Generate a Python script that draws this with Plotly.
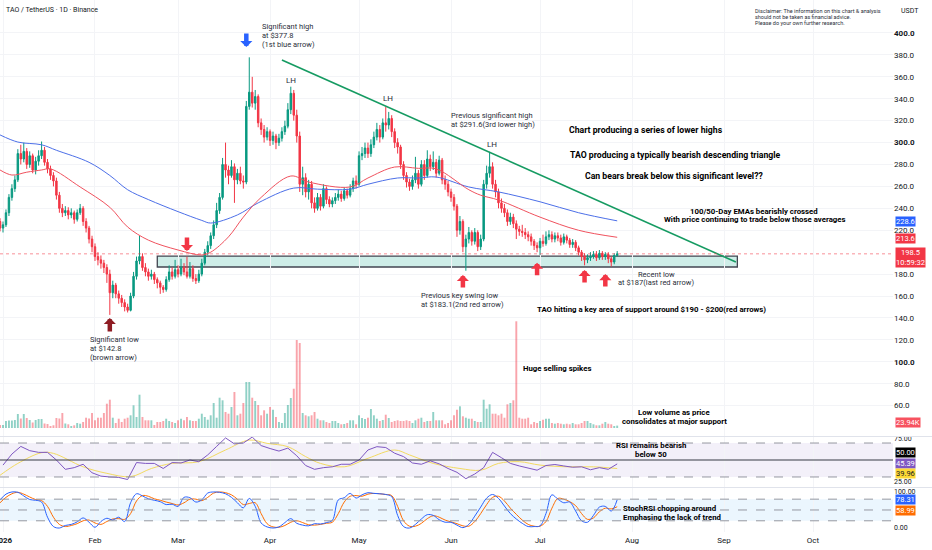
import pandas as pd
import plotly.graph_objects as go

# daily candles 31 Dec 2025 -> 27 Jul 2026 (open = previous close)
first_open = 228
close = [222, 225, 236, 250, 258, 266, 290,
         285, 292, 280, 288, 275, 283, 288,
         293, 282, 276, 270, 265, 252, 240,
         236, 238, 234, 236, 230, 236, 240,
         228, 222, 212, 205, 196, 193, 190,
         186, 180, 163, 170, 162, 158, 154,
         150, 147, 160, 178, 192, 196, 186,
         182, 178, 180, 175, 172, 168, 166,
         175, 182, 178, 184, 180, 186, 182,
         178, 185, 176, 174, 180, 190, 200,
         206, 215, 225, 238, 250, 280, 275,
         270, 278, 266, 272, 265, 264, 333,
         346, 336, 342, 318, 312, 305, 310,
         302, 306, 300, 304, 310, 315, 330,
         345, 325, 306, 262, 268, 255, 262,
         245, 240, 250, 242, 258, 248, 244,
         247, 250, 253, 249, 256, 252, 258,
         265, 262, 288, 290, 295, 290, 298,
         305, 312, 305, 318, 316, 322, 310,
         300, 296, 280, 270, 264, 260, 266,
         272, 262, 280, 270, 285, 278, 282,
         272, 284, 266, 262, 255, 250, 242,
         220, 228, 205, 212, 218, 210, 218,
         205, 212, 262, 272, 278, 262, 255,
         245, 240, 236, 228, 232, 226, 221,
         219, 218, 216, 214, 210, 206, 204,
         210, 208, 214, 216, 212, 215, 213,
         209, 214, 211, 207, 209, 204, 200,
         196, 193, 195, 196, 198, 195, 199,
         196, 198, 194, 191, 197, 198.5]
high = [231, 228, 239, 253, 262, 270, 294,
        298, 300, 295, 292, 290, 287, 293,
        301, 296, 285, 279, 273, 268, 255,
        244, 242, 241, 240, 238, 239, 244,
        242, 231, 224, 215, 208, 200, 197,
        193, 189, 184, 174, 172, 165, 161,
        157, 153, 163, 182, 196, 215, 199,
        190, 185, 184, 182, 177, 174, 170,
        178, 188, 186, 193, 188, 194, 190,
        196, 191, 188, 180, 184, 194, 203,
        210, 218, 229, 245, 254, 286, 300,
        279, 284, 281, 276, 278, 270, 338,
        377.8, 360, 348, 344, 322, 316, 314,
        312, 310, 308, 308, 314, 320, 336,
        351, 348, 330, 310, 278, 272, 266,
        265, 250, 254, 253, 262, 260, 251,
        250, 254, 257, 256, 259, 258, 262,
        268, 270, 292, 296, 300, 300, 303,
        310, 318, 316, 322, 332.5, 328, 325,
        313, 304, 298, 283, 273, 267, 270,
        287, 275, 284, 284, 293, 289, 292,
        285, 288, 286, 270, 265, 258, 253,
        244, 233, 230, 216, 223, 220, 222,
        220, 216, 266, 279, 291.6, 282, 266,
        258, 249, 244, 239, 236, 235, 229,
        224, 225, 222, 219, 217, 212, 209,
        213, 216, 219, 220, 219, 218, 218,
        216, 217, 216, 213, 212, 211, 206,
        202, 199, 198, 200, 201, 201, 202,
        201, 200, 200, 196, 199, 201]
low = [219, 218, 223, 233, 247, 255, 264,
       280, 282, 276, 277, 272, 271, 279,
       285, 279, 272, 266, 260, 248, 236,
       232, 233, 230, 231, 226, 228, 234,
       224, 218, 208, 200, 192, 188, 185,
       181, 172, 142.8, 158, 158, 153, 150,
       146, 145, 146, 158, 175, 189, 183,
       178, 174, 175, 171, 167, 162, 163,
       164, 173, 175, 176, 177, 178, 179,
       176, 176, 173, 171, 172, 178, 188,
       197, 203, 212, 222, 235, 248, 268,
       262, 268, 245, 262, 262, 258, 262,
       330, 332, 330, 314, 307, 300, 302,
       297, 298, 294, 297, 301, 307, 313,
       326, 320, 300, 255, 252, 250, 248,
       240, 236, 238, 238, 240, 244, 241,
       241, 244, 247, 246, 247, 249, 250,
       255, 258, 260, 284, 286, 286, 287,
       295, 302, 300, 303, 310, 312, 305,
       295, 290, 276, 266, 259, 256, 257,
       263, 258, 260, 266, 268, 274, 275,
       268, 270, 262, 257, 251, 246, 238,
       214, 216, 200, 183.1, 208, 206, 207,
       201, 202, 210, 258, 268, 258, 250,
       240, 236, 232, 224, 225, 222, 212,
       215, 214, 212, 210, 206, 202, 200,
       197.5, 205, 206, 211, 209, 209, 210,
       206, 207, 208, 204, 204, 201, 197,
       192, 188, 190, 192, 194, 192, 193,
       193, 193, 190, 187, 189, 196]
volume_k = [30, 30, 70, 75, 75, 80, 140, 95, 140, 100,
            80, 55, 80, 90, 90, 45, 40, 20, 27, 100,
            95, 150, 45, 37, 20, 27, 50, 43, 60, 103,
            95, 150, 77, 103, 103, 150, 243, 283, 103, 50,
            93, 60, 93, 103, 127, 227, 110, 333, 110, 77,
            77, 77, 30, 60, 60, 70, 93, 70, 60, 50,
            77, 93, 77, 110, 77, 70, 70, 93, 143, 110,
            83, 127, 250, 103, 303, 277, 160, 143, 210, 360,
            127, 143, 250, 460, 460, 303, 270, 230, 127, 177,
            143, 210, 183, 110, 60, 50, 150, 230, 300, 393,
            880, 850, 150, 127, 117, 127, 160, 93, 77, 77,
            60, 50, 70, 70, 50, 37, 40, 50, 77, 77,
            37, 127, 100, 90, 103, 190, 127, 93, 70, 80,
            133, 100, 60, 70, 77, 70, 70, 77, 70, 50,
            77, 93, 103, 60, 70, 70, 160, 77, 77, 77,
            37, 50, 77, 127, 183, 217, 117, 103, 93, 93,
            70, 60, 60, 283, 193, 237, 143, 143, 127, 143,
            103, 237, 250, 277, 1067, 103, 93, 93, 103, 37,
            60, 50, 70, 83, 93, 93, 50, 43, 50, 43,
            37, 43, 37, 50, 37, 37, 50, 70, 70, 50,
            37, 27, 27, 43, 60, 43, 37, 20, 23.94]

# moving averages
ema100_dates = ["2025-12-31", "2026-01-06", "2026-01-14", "2026-01-19", "2026-01-30",
                "2026-02-06", "2026-02-12", "2026-02-19", "2026-03-01", "2026-03-09",
                "2026-03-12", "2026-03-21", "2026-03-28", "2026-04-09", "2026-04-17",
                "2026-04-28", "2026-05-04", "2026-05-14", "2026-05-21", "2026-05-27",
                "2026-06-07", "2026-06-17", "2026-07-01", "2026-07-14", "2026-07-27"]
ema100 = [307, 300.5, 298, 293, 282, 270, 257, 248, 237, 229, 226.6, 234, 245,
          258.5, 257.5, 257.5, 262, 267.7, 267.7, 268.6, 259.5, 255, 246, 236, 228.6]
ema50_dates = ["2025-12-31", "2026-01-04", "2026-01-09", "2026-01-14", "2026-01-17",
               "2026-01-27", "2026-02-06", "2026-02-12", "2026-02-19", "2026-03-01",
               "2026-03-09", "2026-03-12", "2026-03-18", "2026-03-23", "2026-03-29",
               "2026-04-08", "2026-04-14", "2026-04-28", "2026-05-04", "2026-05-13",
               "2026-05-21", "2026-05-27", "2026-06-07", "2026-06-11", "2026-06-17",
               "2026-07-01", "2026-07-14", "2026-07-27"]
ema50 = [275, 270.4, 273, 275, 276, 259.5, 241, 223, 211, 202, 197.5, 200, 214, 232,
         250, 269.5, 264, 259.5, 267.7, 277.7, 276.5, 276, 257, 252, 247.6, 232, 220, 213.6]

# RSI (every 3 days from 1 Jan) and its MA
rsi = [44, 57, 66, 61, 59, 59, 50, 39, 41, 45,
       35, 31, 30, 29.5, 27, 47, 46, 46, 40, 47,
       46.5, 50, 48, 56, 66, 76, 69, 70, 77, 67,
       63.5, 60.5, 64, 55, 43.5, 39, 41, 42, 45, 45,
       50, 61.8, 65.7, 64.7, 58, 54, 46.5, 45, 49, 45.5,
       40, 35.5, 28, 33.5, 41, 59, 52.7, 46, 43, 40.5,
       38, 43.5, 44.7, 43, 41.5, 42, 38.5, 41, 39, 45.39]
rsi_ma_dates = ["2025-12-31", "2026-01-06", "2026-01-14", "2026-01-18", "2026-01-28",
                "2026-02-05", "2026-02-13", "2026-02-20", "2026-02-27", "2026-03-08",
                "2026-03-17", "2026-03-25", "2026-03-31", "2026-04-07", "2026-04-13",
                "2026-04-18", "2026-04-26", "2026-05-04", "2026-05-13", "2026-05-18",
                "2026-05-26", "2026-06-04", "2026-06-11", "2026-06-17", "2026-06-24",
                "2026-07-01", "2026-07-10", "2026-07-19", "2026-07-27"]
rsi_ma = [32, 46, 58.6, 57.8, 42, 34.3, 30.4, 40, 46, 48, 61.8, 73.5, 69.6, 65.7, 54,
          46, 42, 52, 61.8, 56, 46, 40, 38, 46, 48, 44, 42, 42, 39.96]

# Stoch RSI (every 2 days from 31 Dec)
stoch_k = [78, 94, 100, 99, 89, 79, 77, 72, 30, 4,
           0, 7, 10, 17, 28, 16, 2, 18, 27, 22,
           30, 18, 70, 95, 89, 81, 77, 73, 65, 66,
           60, 85, 84, 72, 78, 97, 100, 99, 95, 85,
           70, 56, 82, 60, 14, 3, 0, 3, 15, 26,
           13, 8, 6, 12, 11, 15, 21, 78, 84, 96,
           83, 92, 98, 96, 95, 93, 87, 35, 4, 0,
           10, 25, 37, 35, 23, 16, 16, 8, 1, 10,
           33, 58, 83, 93, 82, 61, 40, 25, 13, 4,
           4, 6, 40, 92, 80, 70, 72, 47, 20, 16,
           35, 58, 60, 47, 78.31]
stoch_d = [70, 85, 95, 99, 94, 86, 79, 76, 60, 30,
           10, 4, 7, 12, 20, 22, 14, 10, 18, 25,
           26, 24, 40, 75, 90, 88, 81, 77, 72, 68,
           64, 70, 80, 80, 76, 85, 97, 100, 98, 92,
           80, 65, 68, 70, 40, 12, 3, 2, 7, 16,
           20, 15, 9, 8, 10, 13, 16, 40, 72, 88,
           90, 88, 94, 96, 95, 93, 90, 60, 20, 5,
           5, 13, 26, 34, 30, 22, 17, 12, 6, 5,
           18, 40, 65, 85, 88, 75, 55, 38, 22, 10,
           5, 5, 18, 55, 82, 80, 73, 62, 40, 24,
           28, 45, 55, 53, 58.99]

# drawings
trend_dates = ["2026-04-05", "2026-09-05"]
trend_prices = [375.4, 191]
zone_dates = ["2026-02-22", "2026-09-05 12:00"]
zone_prices = [186.5, 196.5]
red_up_dates = ["2026-06-05", "2026-06-30", "2026-07-16", "2026-07-23"]
red_up_prices = [179.2, 190.4, 183.8, 180]
red_down = ("2026-03-04", 201)
blue_down = ("2026-03-24", 387.2)
brown_up = ("2026-02-06", 140)

month_ticks = ["2026-01-01", "2026-02-01", "2026-03-01", "2026-04-01", "2026-05-01",
               "2026-06-01", "2026-07-01", "2026-08-01", "2026-09-01", "2026-10-01"]
month_labels = ["<b>2026</b>", "Feb", "Mar", "Apr", "May", "Jun", "Jul", "Aug", "Sep", "Oct"]
price_ticks = [v for v in range(60, 401, 20) if v != 200]

UP = "#089981"
DOWN = "#F23645"
TXT = "#131722"
FONT = "Roboto"
PW, PH = 893, 532


def px(x):
    return x / PW


def py(y):
    return 1 - y / PH


dates = pd.date_range("2025-12-31", periods=len(close), freq="D")
open_ = [first_open] + close[:-1]
vol_colors = ["rgba(8,153,129,0.45)" if c >= o else "rgba(242,54,69,0.45)"
              for o, c in zip(open_, close)]
rsi_dates = pd.date_range("2026-01-01", periods=len(rsi), freq="3D")
stoch_dates = pd.date_range("2025-12-31", periods=len(stoch_k), freq="2D")

fig = go.Figure()
fig.add_trace(go.Bar(x=dates, y=volume_k, marker_color=vol_colors, marker_line_width=0,
                     yaxis="y2"))
fig.add_trace(go.Scatter(x=ema100_dates, y=ema100, mode="lines",
                         line=dict(color="#4C6FE8", width=1, shape="spline")))
fig.add_trace(go.Scatter(x=ema50_dates, y=ema50, mode="lines",
                         line=dict(color="#F0525E", width=1, shape="spline")))
fig.add_trace(go.Candlestick(x=dates, open=open_, high=high, low=low, close=close,
                             increasing=dict(line=dict(color=UP, width=1), fillcolor=UP),
                             decreasing=dict(line=dict(color=DOWN, width=1), fillcolor=DOWN),
                             whiskerwidth=0))
fig.add_trace(go.Scatter(x=rsi_ma_dates, y=rsi_ma, mode="lines", yaxis="y3",
                         line=dict(color="#F2DA62", width=1, shape="spline")))
fig.add_trace(go.Scatter(x=rsi_dates, y=rsi, mode="lines", yaxis="y3",
                         line=dict(color="#7E57C2", width=1)))
fig.add_trace(go.Scatter(x=stoch_dates, y=stoch_d, mode="lines", yaxis="y4",
                         line=dict(color="#FF6D00", width=1, shape="spline")))
fig.add_trace(go.Scatter(x=stoch_dates, y=stoch_k, mode="lines", yaxis="y4",
                         line=dict(color="#2962FF", width=1, shape="spline")))

shapes = []
# support zone and descending trendline
shapes.append(dict(type="rect", xref="x", yref="y", x0=zone_dates[0], x1=zone_dates[1],
                   y0=zone_prices[0], y1=zone_prices[1], layer="below",
                   fillcolor="rgba(34,171,148,0.22)", line=dict(color="#434651", width=1.3)))
shapes.append(dict(type="line", xref="x", yref="y", x0=trend_dates[0], x1=trend_dates[1],
                   y0=trend_prices[0], y1=trend_prices[1],
                   line=dict(color="#169B62", width=1.6)))
# last price line
shapes.append(dict(type="line", xref="paper", yref="y", x0=0, x1=1, y0=close[-1], y1=close[-1],
                   line=dict(color="rgba(242,54,69,0.55)", width=1, dash="dot")))
# RSI bands
shapes.append(dict(type="rect", xref="paper", yref="y3", x0=0, x1=1, y0=30, y1=70, layer="below",
                   fillcolor="rgba(126,87,194,0.09)", line=dict(width=0)))
for lvl in [70, 30]:
    shapes.append(dict(type="line", xref="paper", yref="y3", x0=0, x1=1, y0=lvl, y1=lvl,
                       line=dict(color="#9598A1", width=1, dash="dash")))
shapes.append(dict(type="line", xref="paper", yref="y3", x0=0, x1=1, y0=50, y1=50,
                   line=dict(color="#363A45", width=1)))
# Stoch bands
shapes.append(dict(type="rect", xref="paper", yref="y4", x0=0, x1=1, y0=20, y1=80, layer="below",
                   fillcolor="rgba(33,150,243,0.09)", line=dict(width=0)))
for lvl in [80, 50, 20]:
    shapes.append(dict(type="line", xref="paper", yref="y4", x0=0, x1=1, y0=lvl, y1=lvl,
                       line=dict(color="#9598A1", width=1, dash="dash")))
# pane separators
for yy in [436.5, 487.5]:
    shapes.append(dict(type="line", xref="paper", yref="paper", x0=0, x1=px(932),
                       y0=py(yy), y1=py(yy), line=dict(color="#E0E3EB", width=1)))

ann = []


def note(lines, x, y0, dy, anchor="left", size=7.5, bold=False, color="#2A2E39"):
    for k, t in enumerate(lines):
        ann.append(dict(text=f"<b>{t}</b>" if bold else t, xref="paper", yref="paper",
                        x=px(x), y=py(y0 + k * dy), xanchor=anchor, yanchor="middle",
                        showarrow=False, font=dict(family=FONT, size=size, color=color)))


def arrow(d, p, color, ay):
    # block-style arrow: tip sits on (d, p), tail ay pixels away
    ann.append(dict(text="", x=d, y=p, xref="x", yref="y", showarrow=True, ax=0, ay=ay,
                    arrowhead=1, arrowsize=0.45, arrowwidth=4.5, arrowcolor=color,
                    font=dict(size=1)))


note(["TAO / TetherUS · 1D · Binance"], 4, 10, 0, size=7, color=TXT)
note(["Disclaimer: The information on this chart & analysis",
      "should not be taken as financial advice.",
      "Please do your own further research."], 753, 10.7, 6, size=5.5)
note(["USDT"], 910, 10.7, 0, anchor="center", size=7, color=TXT)
note(["Significant high", "at $377.8", "(1st blue arrow)"], 260, 27, 8.6)
note(["LH"], 291, 81, 0, anchor="center", size=8)
note(["LH"], 388, 99, 0, anchor="center", size=8)
note(["LH"], 492, 145, 0, anchor="center", size=8)
note(["Previous significant high", "at $291.6(3rd lower high)"], 449, 115.7, 8.4)
note(["Chart producing a series of lower highs"], 567, 130, 0, size=8.7, bold=True, color="#000")
note(["TAO producing a typically bearish descending triangle"], 568, 155, 0, size=8.7,
     bold=True, color="#000")
note(["Can bears break below this significant level??"], 583, 176, 0, size=8.7, bold=True,
     color="#000")
note(["100/50-Day EMAs bearishly crossed",
      "With price continuing to trade below those averages"], 754, 211, 9, anchor="center",
     size=7.8, bold=True, color="#000")
note(["Recent low", "at $187(last red arrow)"], 656, 274.3, 8.4, anchor="center")
note(["Previous key swing low", "at $183.1(2nd red arrow)"], 419, 295.7, 8.4)
note(["TAO hitting a key area of support around $190 - $200(red arrows)"], 535, 309, 0,
     size=7.8, bold=True, color="#000")
note(["Significant low", "at $142.8", "(brown arrow)"], 88, 339, 9)
note(["Huge selling spikes"], 521, 368, 0, size=7.8, bold=True, color="#000")
note(["Low volume as price", "consolidates at major support"], 674, 412, 9, anchor="center",
     size=7.8, bold=True, color="#000")
note(["RSI remains bearish", "below 50"], 651, 445, 9, anchor="center", size=7.8, bold=True,
     color="#000")
note(["StochRSI chopping around", "Emphasing the lack of trend"], 621, 508, 9, size=7.8,
     bold=True, color="#000")

arrow(blue_down[0], blue_down[1], "#2962FF", -15)
arrow(brown_up[0], brown_up[1], "#8E1B22", 15)
arrow(red_down[0], red_down[1], DOWN, -15)
for d, p in zip(red_up_dates, red_up_prices):
    arrow(d, p, DOWN, 14)

# right-hand value tags
tags = [(f"{ema100[-1]:.1f}", 221.5, "#2962FF", "white"),
        (f"{ema50[-1]:.1f}", 238, DOWN, "white"),
        (f"{close[-1]:.1f}<br>10:59:32", 257.5, DOWN, "white"),
        (f"{volume_k[-1]:.2f}K", 422, "#F7525F", "white"),
        ("50.00", 452.5, "#000000", "white"),
        (f"{rsi[-1]:.2f}", 463, "#7E57C2", "white"),
        (f"{rsi_ma[-1]:.2f}", 473.5, "#FDD835", "#131722"),
        (f"{stoch_k[-1]:.2f}", 499, "#2962FF", "white"),
        (f"{stoch_d[-1]:.2f}", 510, "#FF6D00", "white")]
for t, yy, bg, fg in tags:
    ann.append(dict(text=t, xref="paper", yref="paper", x=px(895), y=py(yy), xanchor="left",
                    yanchor="middle", showarrow=False, bgcolor=bg, borderpad=0,
                    font=dict(family=FONT, size=7.5, color=fg)))

axis_font = dict(family=FONT, size=8, color=TXT)
small_font = dict(family=FONT, size=7, color=TXT)
fig.update_layout(
    width=932, height=550, margin=dict(l=0, r=39, t=0, b=18, autoexpand=False),
    paper_bgcolor="white", plot_bgcolor="white", showlegend=False, bargap=0.35,
    shapes=shapes, annotations=ann,
    xaxis=dict(type="date", range=["2025-12-30 23:40", "2026-10-27 23:00"], anchor="y4",
               tickvals=month_ticks, ticktext=month_labels, tickfont=axis_font,
               ticklabeloverflow="allow", ticklabelstandoff=2, automargin=False,
               showgrid=True, gridcolor="#F3F4F7", zeroline=False, showline=False, ticks="",
               rangeslider=dict(visible=False)),
    yaxis=dict(domain=[py(436), 1], range=[32.3, 430.1], side="right", automargin=False,
               tickvals=price_ticks,
               ticktext=[f"<b>{v:.1f}</b>" if v in (100, 300, 400) else f"{v:.1f}"
                         for v in price_ticks],
               tickfont=axis_font, showgrid=True, gridcolor="#F3F4F7", zeroline=False, ticks=""),
    yaxis2=dict(overlaying="y", range=[-80, 4280], visible=False),
    yaxis3=dict(domain=[py(487), py(437)], range=[18.2, 77.1], side="right", automargin=False,
                tickvals=[25, 75], ticktext=["25.00", "75.00"], tickfont=small_font,
                showgrid=False, zeroline=False, ticks=""),
    yaxis4=dict(domain=[0, py(488)], range=[-11.1, 111], side="right", automargin=False,
                tickvals=[0, 100], ticktext=["0.00", "100.00"], tickfont=small_font,
                showgrid=False, zeroline=False, ticks=""),
)

fig.write_html("out.html", config={"displayModeBar": False},
               post_script="document.body.style.margin='0px';")
